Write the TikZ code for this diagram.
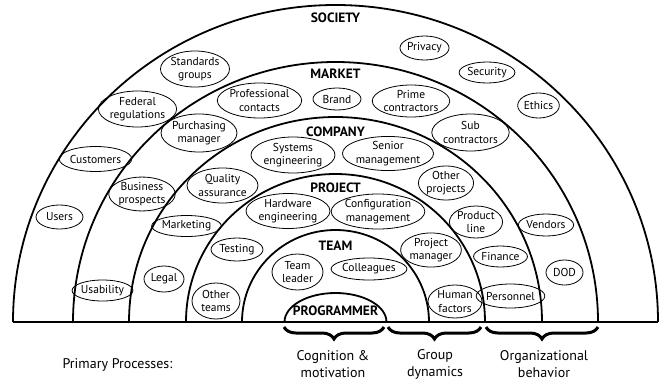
\documentclass[tikz,border=0pt]{standalone}
\usepackage{fontspec}
\setmainfont{PT Sans}
\usetikzlibrary{shapes.geometric,decorations.pathreplacing}

\begin{document}
\begin{tikzpicture}[x=1pt,y=-1pt,
    ring/.style={line width=1.8pt},
    sz/.style 2 args={minimum width=#1pt,minimum height=#2pt},
    brace/.style={decorate,decoration={brace,mirror,amplitude=12pt},line width=3pt}]

  \useasboundingbox (0,0) rectangle (662,386);

  % the rings, outermost first
  \foreach \rx/\ry in {322.5/317, 262.5/260, 206.5/205, 149.5/148, 93.5/92, 51/29}
    \draw[ring] (335.5-\rx,322) arc[start angle=180,end angle=360,x radius=\rx,y radius=\ry];
  \draw[ring] (13,322) -- (658,322);

  \begin{scope}[every node/.style={font=\bfseries\fontsize{13.5}{15}\selectfont}]
    \node (society)    at (335.5,18)  {SOCIETY};
    \node (market)     at (335.5,74)  {MARKET};
    \node (company)    at (335.5,132) {COMPANY};
    \node (project)    at (335.5,188) {PROJECT};
    \node (team)       at (335.5,246) {TEAM};
    \node (programmer) at (335.5,311) {PROGRAMMER};
  \end{scope}

  \begin{scope}[every node/.style={ellipse,draw,line width=0.8pt,inner sep=0pt,
      align=center,font=\fontsize{11.5}{13.5}\selectfont}]
    % society
    \node[sz={62}{36}] (standards) at (195,69)      {Standards\\groups};
    \node[sz={63}{36}] (federal)   at (137.5,109)   {Federal\\regulations};
    \node[sz={57}{25}] (customers) at (95.5,159)    {Customers};
    \node[sz={47}{24}] (users)     at (59.5,217)    {Users};
    \node[sz={47}{24}] (privacy)   at (424.5,48)    {Privacy};
    \node[sz={54}{21}] (security)  at (487,72.5)    {Security};
    \node[sz={41}{25}] (ethics)    at (538.5,105.5) {Ethics};
    % market
    \node[sz={79}{35}] (profcont)  at (259.5,100.5) {Professional\\contacts};
    \node[sz={48}{22}] (brand)     at (337,99)      {Brand};
    \node[sz={72}{32}] (prime)     at (411,101)     {Prime\\contractors};
    \node[sz={70}{38}] (purchase)  at (199,133)     {Purchasing\\manager};
    \node[sz={71}{37}] (subcont)   at (470.5,132.5) {Sub\\contractors};
    \node[sz={58}{32}] (business)  at (142,194)     {Business\\prospects};
    \node[sz={47}{21}] (usability) at (102.5,290.5) {Usability};
    \node[sz={48}{22}] (vendors)   at (546,225)     {Vendors};
    \node[sz={37}{25}] (dod)       at (564.5,272.5) {DOD};
    % company
    \node[sz={84}{36}] (syseng)    at (293,155)     {Systems\\engineering};
    \node[sz={84}{33}] (senior)    at (388,153.5)   {Senior\\management};
    \node[sz={71}{35}] (quality)   at (222.5,185.5) {Quality\\assurance};
    \node[sz={52}{32}] (otherproj) at (446,183)     {Other\\projects};
    \node[sz={61}{21}] (marketing) at (186.5,226)   {Marketing};
    \node[sz={44}{32}] (prodline)  at (476,222)     {Product\\line};
    \node[sz={40}{26}] (legal)     at (164,279)     {Legal};
    \node[sz={45}{21}] (finance)   at (500.5,256.5) {Finance};
    \node[sz={55}{24}] (personnel) at (510.5,296)   {Personnel};
    % project
    \node[sz={84}{35}] (hardware)  at (288,211)     {Hardware\\engineering};
    \node[sz={90}{35}] (config)    at (378,211.5)   {Configuration\\management};
    \node[sz={52}{23}] (testing)   at (237,249.5)   {Testing};
    \node[sz={56}{30}] (projmgr)   at (431,250)     {Project\\manager};
    \node[sz={48}{36}] (otherteam) at (216,301)     {Other\\teams};
    \node[sz={54}{33}] (human)     at (455,301.5)   {Human\\factors};
    % team
    \node[sz={51}{36}] (leader)    at (297.5,272)   {Team\\leader};
    \node[sz={64}{22}] (colleague) at (369,269)     {Colleagues};
  \end{scope}

  % primary processes
  \draw[brace] (284,327) -- (384,327);
  \draw[brace] (388,327) -- (481,327);
  \draw[brace] (486,327) -- (598,327);

  \begin{scope}[every node/.style={align=center,font=\fontsize{14}{17}\selectfont}]
    \node (primary)   at (117.5,365) {Primary Processes:};
    \node (cognition) at (333,364)   {Cognition \&\\motivation};
    \node (group)     at (435,364)   {Group\\dynamics};
    \node (orgbeh)    at (544,364)   {Organizational\\behavior};
  \end{scope}

\end{tikzpicture}
\end{document}
